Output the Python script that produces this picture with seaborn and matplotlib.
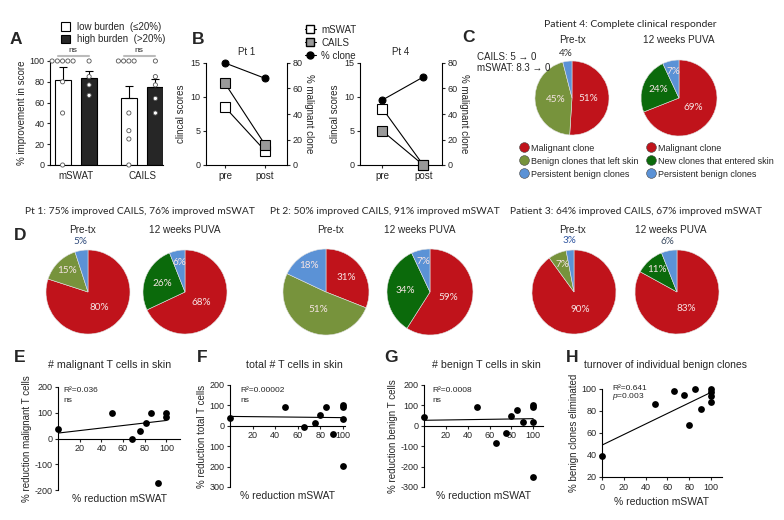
"""Multi-panel clone / clinical response figure, rebuilt with seaborn + matplotlib."""
import matplotlib
matplotlib.use("Agg")
import matplotlib.pyplot as plt
from matplotlib.lines import Line2D
from matplotlib.patches import Patch
import numpy as np
import pandas as pd
import seaborn as sns

# ---- data -------------------------------------------------------------
# A: % improvement in score by burden group
a_scores = ["mSWAT", "CAILS"]
a_burden = ["low burden  (\u226420%)", "high burden  (>20%)"]
a_low_mean = [82, 64]
a_high_mean = [84, 75]
a_low_sem = [12, 12]
a_high_sem = [6, 8]
a_low_mswat = [100, 100, 100, 100, 100, 80, 50, 0]
a_high_mswat = [100, 85, 77, 67]
a_low_cails = [100, 100, 100, 100, 50, 33, 25, 0]
a_high_cails = [100, 85, 77, 64, 50]

# B: clinical scores and % malignant clone, pre/post
b_time = ["pre", "post"]
pt1_mswat = [8.5, 2.1]
pt1_cails = [12, 3]
pt1_clone = [80, 68]
pt4_mswat = [8.3, 0]
pt4_cails = [5, 0]
pt4_clone = [51, 69]

# C / D: clone composition (malignant, benign-left / new, persistent benign)
pre_labels = ["Malignant clone", "Benign clones that left skin", "Persistent benign clones"]
post_labels = ["Malignant clone", "New clones that entered skin", "Persistent benign clones"]
c_pre = [51, 45, 4]
c_post = [69, 24, 7]
d1_pre = [80, 15, 5]
d1_post = [68, 26, 6]
d2_pre = [31, 51, 18]
d2_post = [59, 34, 7]
d3_pre = [90, 7, 3]
d3_post = [83, 11, 6]

# E-H: % reduction mSWAT vs outcome
e_x = [0, 50, 68, 76, 81, 86, 92, 100, 100]
e_y = [35, 100, 0, 30, 62, 100, -172, 100, 82]
fgh_x = [0, 49, 66, 75, 80, 85, 91, 100, 100, 100, 100]
f_y = [40, 92, -8, 16, 51, 90, -40, 100, 92, 33, -198]
g_y = [41, 92, -85, -33, 50, 77, 17, 100, 92, 20, -250]
h_y = [39, 86, 98, 95, 67, 100, 82, 100, 97, 94, 88]
fit_x = [0, 100]
e_fit = [21, 70]
f_fit = [46, 40]
g_fit = [27, 35]
h_fit = [49, 97]

# ---- style ------------------------------------------------------------
sns.set_theme(style="ticks")
plt.rcParams.update({
    "font.family": ["Liberation Sans", "DejaVu Sans"],
    "font.size": 7,
    "axes.linewidth": 0.8,
    "axes.edgecolor": "black",
    "axes.labelsize": 7,
    "xtick.labelsize": 6.5,
    "ytick.labelsize": 6.5,
    "xtick.major.size": 2.5,
    "ytick.major.size": 2.5,
    "xtick.major.width": 0.8,
    "ytick.major.width": 0.8,
    "xtick.major.pad": 1.5,
    "ytick.major.pad": 1.5,
    "mathtext.fontset": "custom",
    "mathtext.it": "Liberation Sans:italic",
    "mathtext.rm": "Liberation Sans",
})
CAL = ["Lato", "DejaVu Sans"]
RED, OLIVE, BLUE, GREEN = "#C0131B", "#77933C", "#5B92D6", "#0B6A0B"
PRE_COLS = [RED, OLIVE, BLUE]
POST_COLS = [RED, GREEN, BLUE]

W, H = 784, 520
fig = plt.figure(figsize=(W / 100, H / 100), dpi=100)


def px_ax(x0, y0, x1, y1, **kw):
    return fig.add_axes([x0 / W, 1 - y1 / H, (x1 - x0) / W, (y1 - y0) / H], **kw)


def ftext(x, y, s, **kw):
    kw.setdefault("va", "center")
    return fig.text(x / W, 1 - y / H, s, **kw)


def letter(x, y, s):
    ftext(x, y, s, fontsize=12.5, fontweight="bold", ha="left")


# ---- A ----------------------------------------------------------------
ax = px_ax(50, 61, 163, 165)
bars = pd.DataFrame({
    "score": a_scores * 2,
    "burden": [a_burden[0]] * 2 + [a_burden[1]] * 2,
    "val": a_low_mean + a_high_mean,
})
sns.barplot(data=bars, x="score", y="val", hue="burden", hue_order=a_burden,
            palette=["white", "#262626"], edgecolor="black", linewidth=0.8,
            gap=0.4, errorbar=None, legend=False, ax=ax)
for cont, errs in zip(ax.containers, [a_low_sem, a_high_sem]):
    for bar, e in zip(cont, errs):
        xc = bar.get_x() + bar.get_width() / 2
        ax.errorbar(xc, bar.get_height(), yerr=[[0], [e]], color="black",
                    capsize=3, lw=0.8, capthick=0.8, zorder=2)
pts = pd.DataFrame({
    "score": ["mSWAT"] * (len(a_low_mswat) + len(a_high_mswat))
    + ["CAILS"] * (len(a_low_cails) + len(a_high_cails)),
    "burden": [a_burden[0]] * len(a_low_mswat) + [a_burden[1]] * len(a_high_mswat)
    + [a_burden[0]] * len(a_low_cails) + [a_burden[1]] * len(a_high_cails),
    "val": a_low_mswat + a_high_mswat + a_low_cails + a_high_cails,
})
sns.swarmplot(data=pts, x="score", y="val", hue="burden", hue_order=a_burden,
              order=a_scores, dodge=True, palette=["white", "white"],
              edgecolor="#555555", linewidth=0.6, size=3, legend=False,
              clip_on=False, zorder=3, ax=ax)
for i in range(2):
    ax.plot([i - 0.27, i + 0.2], [105, 105], color="#bbbbbb", lw=1.5, clip_on=False)
    ax.text(i - 0.05, 106.5, "ns", ha="center", va="bottom", fontsize=6)
ax.set_ylim(0, 100)
ax.set_xlim(-0.39, 1.315)
ax.set_yticks(range(0, 101, 20))
ax.tick_params(axis="x", length=0, pad=4, labelsize=7)
ax.set_xlabel("")
ax.set_ylabel("% improvement in score", labelpad=2)
sns.despine(ax=ax)
fig.legend(handles=[Patch(fc="white", ec="black", lw=0.8),
                    Patch(fc="#262626", ec="black", lw=0.8)],
           labels=a_burden, loc="upper left", bbox_to_anchor=(56 / W, 1 - 17 / H),
           frameon=False, fontsize=7, handlelength=0.9, handleheight=0.9,
           handletextpad=0.8, labelspacing=0.25, borderpad=0)
letter(10, 40, "A")

# ---- B ----------------------------------------------------------------
def clone_panel(rect, xlim, title, mswat, cails, clone):
    ax = px_ax(*rect)
    x = np.arange(len(b_time))
    sns.lineplot(x=x, y=mswat, ax=ax, color="black", lw=0.8, marker="s", ms=6.5,
                 mfc="white", mec="black", mew=0.8, clip_on=False, zorder=4)
    sns.lineplot(x=x, y=cails, ax=ax, color="black", lw=0.8, marker="s", ms=6.5,
                 mfc="#999999", mec="black", mew=0.8, clip_on=False, zorder=4)
    ax.set_ylim(0, 15)
    ax.set_yticks([0, 5, 10, 15])
    ax.set_xlim(*xlim)
    ax.set_xticks(x, b_time)
    ax.tick_params(axis="x", labelsize=7)
    ax.set_ylabel("clincal scores", labelpad=3)
    ax.set_title(title, fontsize=7, pad=6)
    ax2 = ax.twinx()
    sns.lineplot(x=x, y=clone, ax=ax2, color="black", lw=0.8, marker="o", ms=5,
                 mfc="black", mec="black", clip_on=False)
    ax2.set_ylim(0, 80)
    ax2.set_yticks(range(0, 81, 20))
    ax2.set_ylabel("% malignant clone", rotation=270, labelpad=8)
    for a in (ax, ax2):
        a.spines["top"].set_visible(False)
    ax.spines["right"].set_visible(False)
    ax2.spines["left"].set_visible(False)
    ax2.spines["bottom"].set_visible(False)


clone_panel((206, 63, 287, 165), (-0.475, 1.55), "Pt 1", pt1_mswat, pt1_cails, pt1_clone)
clone_panel((360, 63, 442, 165), (-0.55, 1.46), "Pt 4", pt4_mswat, pt4_cails, pt4_clone)
fig.legend(handles=[
    Line2D([0], [0], color="black", lw=0.8, marker="s", ms=6, mfc="white", mec="black"),
    Line2D([0], [0], color="black", lw=0.8, marker="s", ms=6, mfc="#999999", mec="black"),
    Line2D([0], [0], color="black", lw=0.8, marker="o", ms=5, mfc="black", mec="black"),
], labels=["mSWAT", "CAILS", "% clone"], loc="upper left",
    bbox_to_anchor=(300 / W, 1 - 20 / H), frameon=False, fontsize=7,
    handlelength=1.1, handletextpad=0.6, labelspacing=0.3, borderpad=0)
letter(192, 40, "B")

# ---- C / D pies -------------------------------------------------------
def pie(cx, cy, r, vals, cols, out=(), out_color="#2F4B7C"):
    ax = px_ax(cx - r, cy - r, cx + r, cy + r)
    wedges, _, autot = ax.pie(vals, colors=cols, startangle=90, counterclock=False,
                              autopct=lambda p: f"{p:.0f}%",
                              wedgeprops=dict(edgecolor="#e0e0e0", linewidth=0.4),
                              textprops=dict(family=CAL, fontsize=7.2, color="#F6E4E4"))
    for i, (w, t) in enumerate(zip(wedges, autot)):
        ang = np.deg2rad((w.theta1 + w.theta2) / 2)
        if i in out:
            d = 1.22
            t.set_color(out_color)
        elif vals[i] < 20:
            d = 0.72
        elif vals[i] < 40:
            d = 0.58
        else:
            d = 0.45
        t.set_position((d * np.cos(ang), d * np.sin(ang)))
    ax.set_xlim(-1, 1)
    ax.set_ylim(-1, 1)
    return ax


ftext(630, 24, "Patient 4: Complete clinical responder", ha="center", family=CAL, fontsize=7.5)
letter(462, 38, "C")
ftext(477, 57, "CAILS: 5 \u2192 0", ha="left", fontsize=7)
ftext(477, 68, "mSWAT: 8.3 \u2192 0", ha="left", fontsize=7)
ftext(572, 40, "Pre-tx", ha="center", fontsize=7.2)
ftext(679, 40, "12 weeks PUVA", ha="center", fontsize=7.2)
pie(572, 98, 37, c_pre, PRE_COLS, out=(2,), out_color="#333333")
pie(679, 98, 38, c_post, POST_COLS)

for labels, cols, x0 in [(pre_labels, PRE_COLS, 515), (post_labels, POST_COLS, 642)]:
    fig.legend(handles=[Line2D([0], [0], lw=0, marker="o", ms=7, mfc=c, mec="#444444",
                               mew=0.4) for c in cols],
               labels=labels, loc="upper left", bbox_to_anchor=(x0 / W, 1 - 139 / H),
               frameon=False, fontsize=6.5, handlelength=1.0, handletextpad=0.3,
               labelspacing=0.45, borderpad=0)

letter(14, 236, "D")
ftext(140, 211, "Pt 1: 75% improved CAILS, 76% improved mSWAT", ha="center", family=CAL, fontsize=7.4)
ftext(385, 211, "Pt 2: 50% improved CAILS, 91% improved mSWAT", ha="center", family=CAL, fontsize=7.4)
ftext(636, 211, "Patient 3: 64% improved CAILS, 67% improved mSWAT", ha="center", family=CAL, fontsize=7.4)
for xc, title in [(83, "Pre-tx"), (185, "12 weeks PUVA"), (330, "Pre-tx"),
                  (420, "12 weeks PUVA"), (573, "Pre-tx"), (671, "12 weeks PUVA")]:
    ftext(xc, 230, title, ha="center", fontsize=7.2)
pie(88, 292, 42, d1_pre, PRE_COLS, out=(2,))
pie(185, 292, 42, d1_post, POST_COLS)
pie(326, 292, 43, d2_pre, PRE_COLS)
pie(430, 292, 43, d2_post, POST_COLS)
pie(574, 292, 42, d3_pre, PRE_COLS, out=(2,), out_color="#2F55A0")
pie(677, 292, 42, d3_post, POST_COLS, out=(2,), out_color="#3A4A60")

# ---- E-H scatter ------------------------------------------------------
def scatter_panel(rect, xlim, ylim, x, y, fit, ylabel, yticks, yticklabels=None,
                  zero_spine=True):
    ax = px_ax(*rect)
    sns.lineplot(x=fit_x, y=fit, ax=ax, color="black", lw=0.8)
    sns.scatterplot(x=x, y=y, ax=ax, color="black", s=24, linewidth=0,
                    clip_on=False, zorder=3)
    ax.set_xlim(*xlim)
    ax.set_ylim(*ylim)
    ax.set_yticks(yticks)
    if yticklabels is not None:
        ax.set_yticklabels(yticklabels)
    ax.set_ylabel(ylabel, labelpad=2)
    ax.set_xlabel("% reduction mSWAT", fontsize=7.5)
    sns.despine(ax=ax)
    if zero_spine:
        ax.spines["bottom"].set_position(("data", 0))
        ax.set_xticks(range(20, 101, 20))
        ax.xaxis.set_label_coords(0.5, -0.04)
        ax.xaxis.label.set_va("top")
    else:
        ax.set_xticks(range(0, 101, 20))
    return ax


scatter_panel((58, 387, 180, 490), (0, 112.6), (-200, 200), e_x, e_y, e_fit,
              "% reduction malignant T cells", [-200, -100, 0, 100, 200],
              ["-200", "-100", "0", "100", "200"])
scatter_panel((230, 385, 345, 487), (0, 102), (-300, 200), fgh_x, f_y, f_fit,
              "% reduction total T cells", [-300, -200, -100, 0, 100, 200],
              ["300", "200", "100", "0", "100", "200"])
scatter_panel((424, 385, 543, 487), (0, 109), (-300, 200), fgh_x, g_y, g_fit,
              "% reduction benign T cells", [-300, -200, -100, 0, 100, 200],
              ["-300", "-200", "-100", "0", "100", "200"])
scatter_panel((602, 389, 722, 477), (0, 110), (20, 100), fgh_x, h_y, h_fit,
              "% benign clones eliminated", range(20, 101, 20), zero_spine=False)

letter(14, 358, "E")
letter(197, 358, "F")
letter(384, 358, "G")
letter(566, 358, "H")
ftext(110, 365, "# malignant T cells in skin", ha="center", fontsize=7.7)
ftext(294, 365, "total # T cells in skin", ha="center", fontsize=7.7)
ftext(486, 365, "# benign T cells in skin", ha="center", fontsize=7.7)
ftext(584, 365, "turnover of individual benign clones", ha="left", fontsize=7.5)
for x0, r2, sub in [(63, "R\u00b2=0.036", "ns"), (240, "R\u00b2=0.00002", "ns"),
                    (432, "R\u00b2=0.0008", "ns"), (612, "R\u00b2=0.641", "$p$=0.003")]:
    ftext(x0, 391 if x0 != 612 else 388, r2, ha="left", fontsize=6)
    ftext(x0, 400 if x0 != 612 else 397, sub, ha="left", fontsize=6)

fig.savefig("out.png", dpi=100)
